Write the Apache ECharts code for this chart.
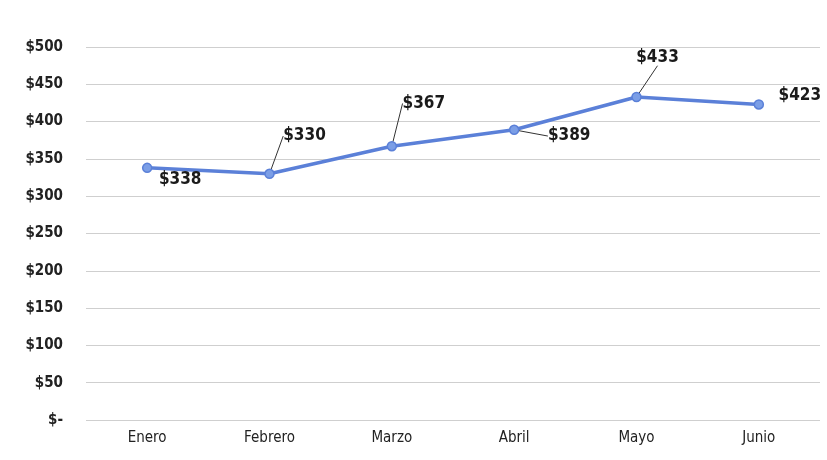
<!DOCTYPE html>
<html>
<head>
<meta charset="utf-8">
<script src="https://cdn.jsdelivr.net/npm/echarts@6/dist/echarts.min.js"></script>
<style>
    html, body { margin: 0; padding: 0; background: #fff; }
    #main { width: 827px; height: 460px; }
</style>
</head>
<body>
<div id="main"></div>
<script>
    var meses = ['Enero', 'Febrero', 'Marzo', 'Abril', 'Mayo', 'Junio'];
    var ventas = [338, 330, 367, 389, 433, 423];
    var yTicks = [0, 50, 100, 150, 200, 250, 300, 350, 400, 450, 500];

    // label offsets from each point (styling only), and whether a leader line shows
    var labelDx = [33, 35, 32, 55, 21, 41];
    var labelDy = [30, -19, -24, 25, -21, 10];
    var showLine = [false, true, true, true, true, false];

    var fuente = '"DejaVu Sans Condensed", "Liberation Sans", Arial, sans-serif';

    (function (charts) {
        charts.setOption({
            animation: false,
            backgroundColor: '#fff',
            grid: {
                left: 86,
                right: 7,
                top: 47,
                bottom: 40
            },
            xAxis: {
                type: 'category',
                data: meses,
                boundaryGap: true,
                axisLine: { show: false },
                axisTick: { show: false },
                axisLabel: {
                    color: '#222',
                    fontSize: 15,
                    fontFamily: fuente,
                    margin: 11
                }
            },
            yAxis: {
                type: 'value',
                min: yTicks[0],
                max: yTicks[yTicks.length - 1],
                interval: 50,
                axisLine: { show: false },
                axisTick: { show: false },
                splitLine: {
                    lineStyle: { color: '#cfcfcf', width: 1 }
                },
                axisLabel: {
                    color: '#222',
                    fontSize: 15,
                    fontWeight: 'bold',
                    fontFamily: fuente,
                    margin: 23,
                    formatter: function (v) {
                        return v === 0 ? '$-' : '$' + v;
                    }
                }
            },
            series: [
                {
                    name: 'Ventas',
                    type: 'line',
                    data: ventas.map(function (v, i) {
                        return {
                            value: v,
                            labelLine: { show: showLine[i] }
                        };
                    }),
                    symbol: 'circle',
                    symbolSize: 9,
                    lineStyle: { color: '#5b80d8', width: 3.5 },
                    itemStyle: { color: '#7b9ee6', borderColor: '#5b80d8', borderWidth: 1.5 },
                    label: {
                        show: true,
                        position: 'top',
                        color: '#1a1a1a',
                        fontSize: 17,
                        fontWeight: 'bold',
                        fontFamily: fuente,
                        formatter: function (p) {
                            return '$' + p.value;
                        }
                    },
                    labelLine: {
                        show: true,
                        lineStyle: { color: '#333', width: 1 }
                    },
                    labelLayout: function (p) {
                        return { dx: labelDx[p.dataIndex], dy: labelDy[p.dataIndex] };
                    }
                }
            ]
        });
    })(echarts.init(document.getElementById('main')));
</script>
</body>
</html>
